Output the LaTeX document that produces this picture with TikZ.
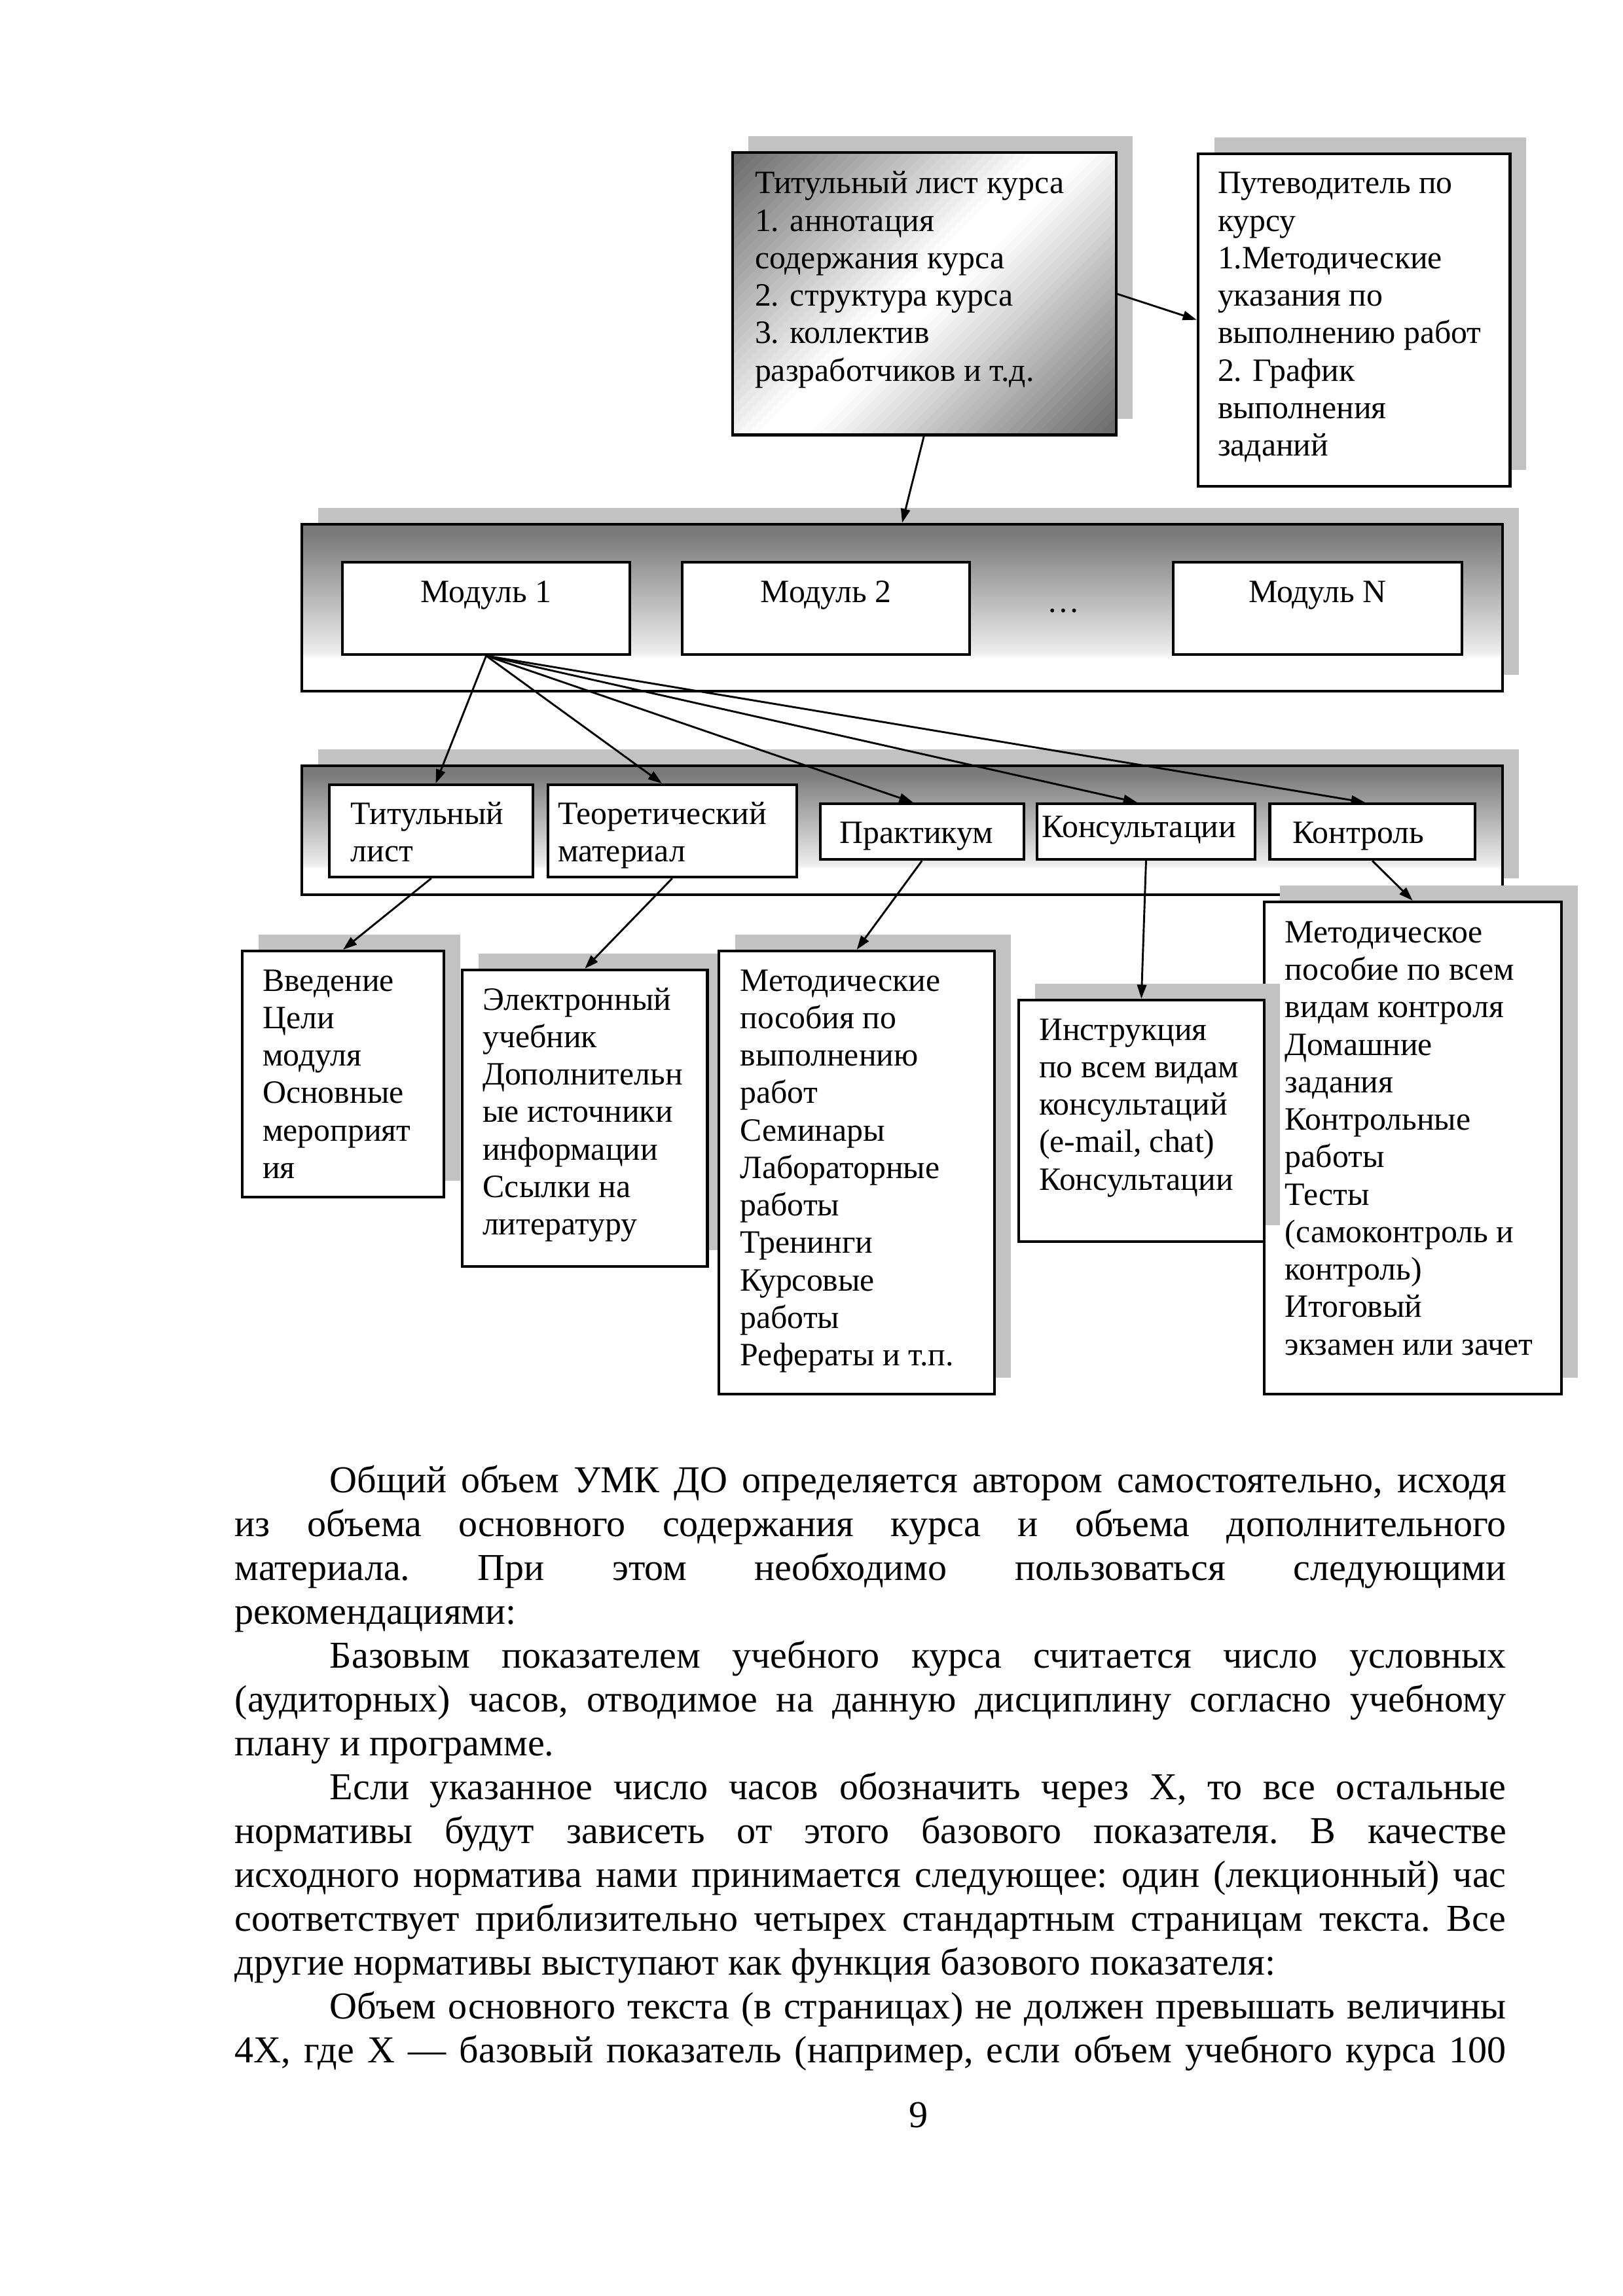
\documentclass[tikz,border=0pt]{standalone}
\usepackage{fontspec}
\setmainfont{Liberation Serif}
\usetikzlibrary{arrows.meta,shadows,calc}
\newcommand\bxfont{\fontsize{12}{13.8}\selectfont}
\newcommand\bdfont{\fontsize{14}{16.15}\selectfont}
\pgfdeclareverticalshading{contshade}{100bp}{color(0bp)=(white); color(35bp)=(white); color(36.5bp)=(black!7); color(72bp)=(black!52); color(100bp)=(black!52)}
\begin{document}
\begin{tikzpicture}[x=0.189531mm, y=-0.189531mm,
  box/.style={draw=black, line width=1pt, fill=white, anchor=north west, inner sep=0pt},
  sz/.style 2 args={minimum width=#1*0.189531mm, minimum height=#2*0.189531mm},
  shad/.style={drop shadow={shadow xshift=2.1mm, shadow yshift=2.1mm, fill=black!24, opacity=1}},
  bt/.style={anchor=north west, inner sep=0pt, align=left, font=\bxfont},
  mt/.style={anchor=north, inner sep=0pt, align=center, font=\bxfont},
  arr/.style={-{Triangle[length=1.8mm,width=1.2mm]}, line width=0.7pt},
]
\useasboundingbox[fill=white] (0,0) rectangle (1108,1568);

% containers
\node[box, shad, sz={820}{114}, shade, shading=contshade] (mods) at (205,357) {};
\node[box, shad, sz={820}{88}, shade, shading=contshade] (cont) at (205,522) {};

% title box with diagonal bands
\node[box, shad, outer sep=0pt, sz={262}{193}] (title) at (500,104) {};
\begin{scope}
\clip (title.north west) rectangle (title.south east);
\foreach \i in {-34,...,34}{
  \pgfmathtruncatemacro\g{min(57,max(0,abs(\i)-2)*57/29)}
  \fill[black!\g, shift={(title.center)}, rotate=-45] (\i*5-2.8,-260) rectangle (\i*5+2.8,260);
}
\end{scope}
\draw[line width=1pt] (title.north west) rectangle (title.south east);
\node[bt] at ($(title.north west)+(15,10)$) {\strut Титульный лист курса\\1. аннотация\\содержания курса\\2. структура курса\\3. коллектив\\разработчиков и т.д.};
\node[box, shad, sz={213}{227}] (put) at (817,104) {};
\node[bt] at ($(put.north west)+(14,10)$) {\strut Путеводитель по\\курсу\\1.Методические\\указания по\\выполнению работ\\2. График\\выполнения\\заданий};

% modules
\node[box, sz={196}{63}] (m1) at (233,383) {};
\node[box, sz={196}{63}] (m2) at (465,383) {};
\node[box, sz={197}{63}] (mN) at (800,383) {};
\node[mt] at ($(m1.north)+(0,10)$) {\strut Модуль 1};
\node[mt] at ($(m2.north)+(0,10)$) {\strut Модуль 2};
\node[mt] at ($(mN.north)+(0,10)$) {\strut Модуль N};
\node[anchor=base, inner sep=0pt, font=\bxfont] (dots) at (726,418) {…};

% module parts
\node[box, sz={139}{63}] (t1) at (224,535) {};
\node[box, sz={170}{63}] (t2) at (373,535) {};
\node[box, sz={139}{38}] (t3) at (559,548) {};
\node[box, sz={149}{38}] (t4) at (707,548) {};
\node[box, sz={140}{38}] (t5) at (866,548) {};
\node[bt] at ($(t1.north west)+(15,9.5)$) {\strut Титульный\\лист};
\node[bt] at ($(t2.north west)+(7.5,9.5)$) {\strut Теоретический\\материал};
\node[bt] at ($(t3.north west)+(14,9.5)$) {\strut Практикум};
\node[bt] at ($(t4.north west)+(4,5.5)$) {\strut Консультации};
\node[bt] at ($(t5.north west)+(16,9.5)$) {\strut Контроль};

% bottom boxes
\node[box, shad, sz={137.5}{168}] (b1) at (164.5,648.5) {};
\node[box, shad, sz={167.4}{202.5}] (b2) at (314.6,661.5) {};
\node[box, shad, sz={188}{302.5}] (b3) at (490,648.5) {};
\node[box, shad, sz={203}{336}] (b5) at (862,615) {};
\node[box, shad, sz={167.4}{165}] (b4) at (694.6,682) {};
\node[bt] at ($(b1.north west)+(14.5,10)$) {\strut Введение\\Цели\\модуля\\Основные\\мероприят\\ия};
\node[bt] at ($(b2.north west)+(14.5,10)$) {\strut Электронный\\учебник\\Дополнительн\\ые источники\\информации\\Ссылки на\\литературу};
\node[bt] at ($(b3.north west)+(15,10)$) {\strut Методические\\пособия по\\выполнению\\работ\\Семинары\\Лабораторные\\работы\\Тренинги\\Курсовые\\работы\\Рефераты и т.п.};
\node[bt] at ($(b4.north west)+(14.5,10)$) {\strut Инструкция\\по всем видам\\консультаций\\(e-mail, chat)\\Консультации};
\node[bt] at ($(b5.north west)+(15,10.5)$) {\strut Методическое\\пособие по всем\\видам контроля\\Домашние\\задания\\Контрольные\\работы\\Тесты\\(самоконтроль и\\контроль)\\Итоговый\\экзамен или зачет};

% arrows
\draw[arr] (title.east) -- (put.west);
\draw[arr] (title.south) -- (mods.north);
\draw[arr] (m1.south) -- ($(t1.north)+(3,0)$);
\draw[arr] (m1.south) -- ($(t2.north)+(-7,0)$);
\draw[arr] (m1.south) -- ($(t3.north)+(-6,0)$);
\draw[arr] (m1.south) -- ($(t4.north)+(-6,0)$);
\draw[arr] (m1.south) -- ($(t5.north)+(-5,0)$);
\draw[arr] (t1.south) -- (b1.north);
\draw[arr] (t2.south) -- (b2.north);
\draw[arr] (t3.south) -- (b3.north);
\draw[arr] (t4.south) -- (b4.north);
\draw[arr] (t5.south) -- (b5.north);

% body text
\node[anchor=north west, inner sep=0pt, text width=164.51mm, align=justify, font=\bdfont] (body) at (160,998) {%
\frenchspacing\tolerance=10000 \hyphenpenalty=10000
\strut\hspace*{12.3mm}Общий объем УМК ДО определяется автором самостоятельно, исходя \linebreak из объема основного содержания курса и объема дополнительного \linebreak материала. При этом необходимо пользоваться следующими \linebreak рекомендациями:\par
\hspace*{12.3mm}Базовым показателем учебного курса считается число условных \linebreak (аудиторных) часов, отводимое на данную дисциплину согласно учебному \linebreak плану и программе.\par
\hspace*{12.3mm}Если указанное число часов обозначить через X, то все остальные \linebreak нормативы будут зависеть от этого базового показателя. В качестве \linebreak исходного норматива нами принимается следующее: один (лекционный) час \linebreak соответствует приблизительно четырех стандартным страницам текста. Все \linebreak другие нормативы выступают как функция базового показателя:\par
{\parfillskip=0pt \hspace*{12.3mm}Объем основного текста (в страницах) не должен превышать величины \linebreak 4X, где X — базовый показатель (например, если объем учебного курса 100\par}};
\node[anchor=base, inner sep=0pt, font=\bdfont] (pnum) at (627,1453) {9};
\end{tikzpicture}
\end{document}
